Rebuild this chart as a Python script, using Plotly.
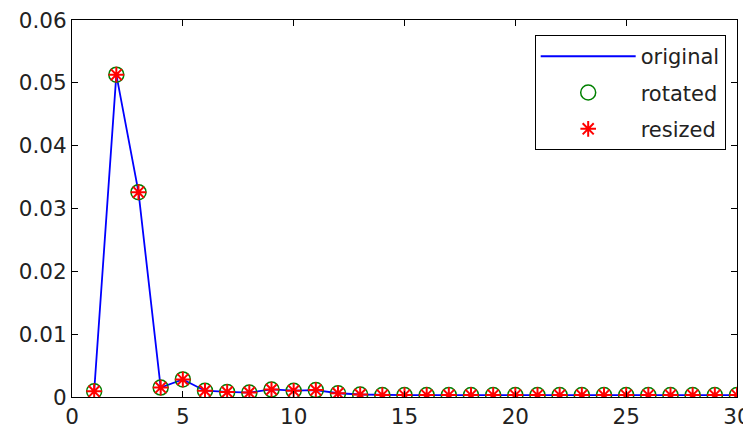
import plotly.graph_objects as go

x_vals = list(range(1, 31))
original = [0.0009, 0.0513, 0.0326, 0.0015, 0.0028, 0.0010, 0.0008, 0.0007, 0.0012, 0.0010,
            0.0011, 0.0006, 0.0004, 0.0003, 0.0003, 0.0003, 0.0003, 0.0003, 0.0003, 0.0003,
            0.0003, 0.0003, 0.0003, 0.0003, 0.0003, 0.0003, 0.0003, 0.0003, 0.0003, 0.0003]
rotated = list(original)
resized = list(original)

x_ticks = [0, 5, 10, 15, 20, 25, 30]
y_ticks = [0, 0.01, 0.02, 0.03, 0.04, 0.05, 0.06]

font = "DejaVu Sans, sans-serif"

fig = go.Figure()
fig.add_trace(go.Scatter(x=x_vals, y=original, mode="lines", name="original",
                         legendgroup="a",
                         line=dict(color="#0000FF", width=1.8)))
fig.add_trace(go.Scatter(x=x_vals, y=rotated, mode="markers", name="rotated",
                         legendgroup="b",
                         marker=dict(symbol="circle-open", size=15, color="#008000",
                                     line=dict(color="#008000", width=1.5))))
fig.add_trace(go.Scatter(x=x_vals, y=resized, mode="markers", name="resized",
                         legendgroup="c",
                         marker=dict(symbol="asterisk-open", size=13, color="#FF0000",
                                     line=dict(color="#FF0000", width=2))))

axis_common = dict(showline=True, linecolor="black", linewidth=1, mirror="ticks",
                   ticks="inside", ticklen=6, tickcolor="black", showgrid=False,
                   zeroline=False, automargin=False, ticklabeloverflow="allow",
                   tickfont=dict(family=font, size=21.5, color="#222222"))

# the page body adds an 8px offset; size and margins compensate for it
fig.update_layout(
    width=743, height=424,
    margin=dict(l=64, r=14, t=12, b=35, autoexpand=False),
    paper_bgcolor="white", plot_bgcolor="white",
    xaxis=dict(range=[0, 30], tickvals=x_ticks, **axis_common),
    yaxis=dict(range=[0, 0.06], tickvals=y_ticks, **axis_common),
    legend=dict(x=0.983, y=0.96, xanchor="right", yanchor="top",
                bordercolor="black", borderwidth=1, bgcolor="white",
                font=dict(family=font, size=21, color="#222222"),
                itemwidth=95, tracegroupgap=6),
    showlegend=True,
)

fig.write_html("out.html")
